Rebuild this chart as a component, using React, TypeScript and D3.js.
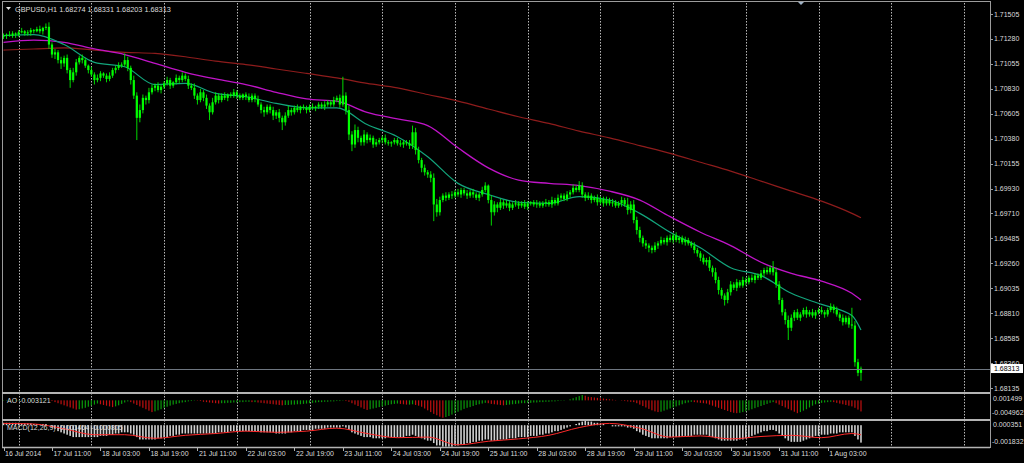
import React from "react";
import * as d3 from "d3";

// ---------- DATA ----------
const headerText = "GBPUSD,H1  1.68274 1.68331 1.68203 1.68313";
const aoLabel = "AO -0.003121";
const macdLabel = "MACD(12,26,9) -0.001464 -0.000805";
const lastPriceText = "1.68313";
const lastPrice = 1.68313;

const firstOpen = 1.713;
const closes: number[] = [
  1.7131, 1.7132, 1.7131, 1.7133, 1.7132, 1.7134, 1.7135, 1.7133, 1.7134, 1.7136,
  1.7135, 1.7137, 1.7135, 1.7138, 1.7139, 1.7123, 1.7114, 1.7116, 1.7109, 1.7106,
  1.7111, 1.71, 1.7091, 1.7098, 1.7107, 1.7111, 1.7109, 1.7104, 1.71, 1.7096,
  1.7091, 1.7093, 1.7097, 1.7095, 1.7092, 1.7095, 1.71, 1.7102, 1.7104, 1.7105,
  1.7109, 1.7102, 1.7091, 1.7077, 1.7057, 1.7064, 1.7075, 1.7073, 1.708, 1.7084,
  1.7086, 1.7082, 1.7085, 1.7088, 1.7091, 1.7086, 1.7089, 1.7093, 1.7091, 1.7095,
  1.7092, 1.7086, 1.7084, 1.7077, 1.7073, 1.708, 1.7075, 1.7068, 1.7062, 1.7071,
  1.7077, 1.7073, 1.7077, 1.7075, 1.7078, 1.7077, 1.708, 1.7077, 1.7075, 1.7078,
  1.7076, 1.7073, 1.7077, 1.7074, 1.7069, 1.7064, 1.7062, 1.7067, 1.7064, 1.7059,
  1.7062, 1.7057, 1.7053, 1.7059, 1.7064, 1.7062, 1.7066, 1.7064, 1.7067, 1.7066,
  1.7064, 1.7067, 1.7066, 1.7067, 1.7069, 1.7067, 1.7069, 1.7071, 1.7069, 1.7073,
  1.7075, 1.7069, 1.7077, 1.7064, 1.7042, 1.7033, 1.7046, 1.7039, 1.7035, 1.7042,
  1.7037, 1.7039, 1.7033, 1.7035, 1.7037, 1.7039, 1.7035, 1.7034, 1.7035, 1.7037,
  1.7034, 1.7033, 1.7035, 1.7034, 1.7032, 1.7044, 1.7028, 1.7019, 1.7012, 1.7008,
  1.7006, 1.7003, 1.6979, 1.6972, 1.6983, 1.6987, 1.6985, 1.6988, 1.6987, 1.699,
  1.6988, 1.6992, 1.6989, 1.6987, 1.699, 1.6988, 1.6985, 1.6988, 1.6992, 1.6996,
  1.6983, 1.6972, 1.6979, 1.6976, 1.6981, 1.6978, 1.698, 1.6976, 1.6979, 1.698,
  1.6978, 1.698, 1.6977, 1.698, 1.6981, 1.6979, 1.698, 1.6978, 1.698, 1.6981,
  1.6979, 1.6983, 1.698, 1.6985, 1.6987, 1.6984, 1.6988, 1.699, 1.6994, 1.6992,
  1.6996, 1.6988, 1.6985, 1.6987, 1.6983, 1.6985, 1.6981, 1.6984, 1.698, 1.6983,
  1.698, 1.6981, 1.6978, 1.698, 1.6983, 1.6979, 1.6974, 1.6979, 1.6965, 1.6956,
  1.6949, 1.6944, 1.6942, 1.694, 1.6938, 1.6942, 1.6944, 1.6947, 1.6945, 1.6949,
  1.6947, 1.6951, 1.6947, 1.6949, 1.6945, 1.6947, 1.6944, 1.6942, 1.6938, 1.6935,
  1.6931, 1.6927, 1.6929, 1.6922, 1.6918, 1.6911, 1.6902, 1.6897, 1.6893, 1.69,
  1.6907, 1.6904, 1.6909, 1.6906, 1.6911, 1.6909, 1.6913, 1.6911, 1.6915, 1.6913,
  1.6917, 1.692, 1.6918, 1.6922, 1.6918, 1.6907, 1.6893, 1.6882, 1.6875, 1.6868,
  1.6877, 1.6882, 1.6877, 1.688, 1.6884, 1.688, 1.6882, 1.6879, 1.6882, 1.6884,
  1.6882, 1.688, 1.6884, 1.6887, 1.6884, 1.688, 1.6877, 1.6873, 1.6877, 1.6871,
  1.687, 1.6837, 1.68274, 1.68313,
];
// upper / lower wick beyond the body, in pips
const wickUp: number[] = [
  2, 1, 3, 2, 1, 2, 3, 1, 2, 2, 1, 2, 3, 1, 3, 4, 2, 3, 2, 3,
  2, 3, 2, 4, 3, 2, 3, 2, 1, 3, 2, 3, 2, 1, 2, 3, 2, 2, 3, 2,
  6, 3, 2, 4, 3, 5, 3, 2, 4, 3, 2, 3, 2, 2, 3, 2, 1, 3, 2, 3,
  2, 3, 2, 4, 2, 3, 2, 3, 2, 4, 3, 2, 2, 3, 1, 2, 3, 2, 2, 1,
  2, 3, 2, 2, 3, 2, 3, 2, 2, 3, 2, 3, 2, 3, 4, 2, 2, 3, 1, 2,
  2, 2, 3, 1, 2, 2, 3, 2, 2, 3, 2, 3, 17, 3, 4, 3, 5, 3, 2, 4,
  2, 3, 2, 3, 2, 2, 3, 2, 1, 2, 2, 3, 2, 2, 3, 6, 4, 3, 2, 3,
  2, 3, 4, 5, 3, 2, 3, 2, 3, 2, 3, 2, 2, 3, 2, 3, 2, 2, 3, 3,
  1, 4, 3, 2, 3, 2, 3, 2, 2, 3, 2, 2, 3, 2, 1, 2, 3, 2, 2, 3,
  2, 3, 2, 3, 2, 2, 3, 2, 3, 2, 4, 3, 2, 3, 2, 2, 3, 2, 2, 3,
  2, 3, 2, 2, 3, 2, 6, 3, 4, 3, 3, 2, 3, 2, 2, 3, 2, 3, 2, 2,
  3, 2, 3, 2, 2, 3, 2, 2, 3, 2, 2, 3, 2, 3, 2, 4, 3, 2, 2, 3,
  3, 2, 3, 2, 3, 2, 2, 3, 2, 2, 3, 2, 3, 2, 6, 4, 3, 2, 3, 4,
  3, 2, 3, 2, 2, 3, 2, 3, 2, 2, 3, 2, 2, 3, 2, 3, 2, 3, 2, 2,
  15, 4, 3, 1.8,
];
const wickDn: number[] = [
  2, 3, 1, 2, 3, 2, 1, 2, 2, 3, 2, 1, 2, 3, 2, 4, 3, 4, 3, 5,
  3, 3, 7, 2, 3, 2, 3, 2, 3, 2, 4, 2, 3, 2, 3, 2, 2, 3, 2, 2,
  2, 3, 4, 3, 20, 4, 3, 4, 3, 2, 3, 2, 3, 2, 2, 3, 2, 2, 3, 2,
  2, 3, 2, 3, 4, 2, 3, 3, 7, 2, 2, 3, 2, 2, 3, 2, 2, 3, 2, 2,
  3, 2, 2, 3, 2, 3, 4, 2, 3, 4, 3, 4, 7, 3, 2, 3, 2, 2, 3, 2,
  3, 2, 2, 3, 2, 2, 3, 2, 2, 2, 2, 3, 2, 4, 5, 6, 3, 4, 3, 3,
  3, 2, 3, 2, 2, 3, 2, 2, 3, 2, 2, 2, 3, 2, 3, 3, 4, 3, 4, 3,
  3, 4, 15, 4, 3, 2, 3, 2, 3, 2, 2, 3, 2, 3, 2, 3, 2, 3, 2, 2,
  3, 12, 3, 4, 2, 3, 2, 3, 2, 2, 3, 2, 2, 3, 2, 2, 3, 2, 2, 3,
  2, 3, 2, 2, 3, 2, 2, 3, 2, 2, 2, 3, 3, 2, 3, 2, 3, 2, 3, 2,
  2, 3, 2, 2, 3, 2, 4, 3, 3, 4, 4, 3, 3, 4, 3, 2, 3, 2, 2, 3,
  2, 3, 2, 3, 2, 3, 2, 2, 3, 3, 3, 2, 3, 3, 4, 3, 4, 3, 5, 3,
  3, 2, 3, 2, 2, 3, 2, 2, 3, 2, 2, 3, 2, 2, 3, 3, 4, 3, 4, 11,
  3, 3, 2, 3, 2, 3, 2, 2, 3, 2, 2, 3, 2, 2, 3, 2, 3, 3, 2, 3,
  3, 4, 3, 7.1,
];

// moving averages sampled at bar indices
const maIdx = [0, 10, 20, 30, 40, 50, 60, 70, 80, 90, 100, 110, 120, 130, 140, 150, 160, 170, 180, 190, 200, 210, 220, 230, 240, 250, 260, 270, 280, 283];
const maFast = [1.7131, 1.7132, 1.7123, 1.7107, 1.7103, 1.7087, 1.7088, 1.7079, 1.7076, 1.707, 1.7066, 1.7066, 1.7051, 1.704, 1.7022, 1.6998, 1.6988, 1.6981, 1.698, 1.6986, 1.6983, 1.6971, 1.6954, 1.694, 1.6922, 1.6915, 1.6899, 1.6889, 1.6879, 1.6866];
const maMid = [1.7125, 1.7127, 1.7125, 1.7119, 1.7114, 1.7106, 1.7098, 1.7092, 1.7087, 1.708, 1.7074, 1.7072, 1.7062, 1.7056, 1.705, 1.703, 1.7012, 1.7001, 1.6998, 1.6996, 1.6991, 1.6983, 1.6968, 1.6954, 1.6942, 1.6927, 1.6917, 1.691, 1.6899, 1.6893];
const maSlow = [1.7118, 1.7119, 1.712, 1.7118, 1.7116, 1.7115, 1.7112, 1.7108, 1.7105, 1.7101, 1.7097, 1.7093, 1.7088, 1.7084, 1.7078, 1.7072, 1.7065, 1.7058, 1.7052, 1.7045, 1.7039, 1.7032, 1.7025, 1.7017, 1.7009, 1.7, 1.6991, 1.6982, 1.6971, 1.6967];

// Awesome Oscillator, units of 1e-4
const aoValues: number[] = [
  1, 1, 1, 1, 1, 1, 1, 1, 1, 1, 1, 1, 1, 1, 1, 0,
  -2, -5, -8, -11, -14, -17, -20, -23, -26,
  -25, -23, -21, -18, -15, -12, -9,
  -11, -13, -15, -17, -19,
  -17, -14, -10, -6, -3,
  -5, -9, -13, -17, -21, -25, -29, -33,
  -31, -28, -25, -21,
  -18, -15, -12, -10, -8, -6, -5, -3, -2, 1,
  -1, -2, -4, -5, -6, -7, -8, -9, -8, -8, -7, -7, -6,
  -6, -5, -5, -4, -4, -5, -5, -6, -7, -8, -9,
  -10, -11, -12, -13, -14, -13, -13, -12, -12, -11, -11,
  -10, -9, -8, -7, -6, -5, -5, -4, -4, -3, -3, -2, -2, -1, -2,
  -4, -8, -12, -16, -20, -24, -27, -25, -23, -21,
  -19, -17, -15, -13, -11, -10, -9, -10,
  -11, -12, -12, -11, -13, -15,
  -18, -23, -28, -33, -38, -42, -46, -49,
  -47, -44, -40, -36, -32, -28, -24, -21,
  -19, -16, -13, -11, -9, -7,
  -8, -10, -11, -12, -13, -14, -13,
  -12, -11, -10, -9, -8, -8, -7,
  -7, -6, -6, -5, -5, -4, -4, -3, -3, -2, -1, -1, 0,
  3, 6, 9, 12, 15, 13, 10,
  9, 8, 7, 6, 5, 4, 3, 2, 1, 0, -1, -2, -3, -4, -5,
  -8, -12, -16, -20, -24, -28, -31, -33,
  -32, -29, -26, -23, -20, -17, -14, -11, -8, -6, -4,
  -5, -6, -7, -8, -9,
  -12, -15, -18, -21, -24, -27, -30, -33, -35, -36,
  -35, -33, -31, -28, -25, -22, -19, -16, -13, -10, -7, -5,
  -8, -12, -16, -20, -24, -28, -32, -36,
  -33, -29, -25, -20, -15, -11,
  -9, -7, -6, -5, -4,
  -5, -7, -9, -11, -13, -15, -17, -21, -26, -31.21,
];

// MACD main (histogram), units of 1e-4
const macdValues: number[] = [
  2, 2, 2, 2, 2, 2, 1.5, 1.5, 1.5, 1.5, 1, 1, 1, 1, 1,
  0, -2, -3, -5, -6, -7, -8, -9, -10, -10, -10, -10, -10, -10, -10,
  -10, -10, -9, -9, -9, -8, -8, -7, -7, -6, -6, -6, -7, -8, -10,
  -12, -12, -12, -12, -12, -12, -11, -11,
  -10, -10, -9, -9, -8, -8, -7, -7, -7, -7, -7, -7, -7,
  -7, -7, -7, -7, -7, -6, -6, -6, -6, -5, -5, -5, -5, -5, -5, -5, -5, -5, -5, -6, -6, -6, -6, -6, -7, -7, -7, -7, -6, -6, -5, -5, -5,
  -4, -4, -4, -4, -3, -3, -3, -3, -2, -2, -2, -2, -2, -1,
  -2, -4, -6, -7, -8, -9, -10, -10, -10, -11, -11, -11, -11, -11, -10, -10, -10, -10, -10,
  -10, -9, -9, -8, -9, -10,
  -11, -12, -13, -13, -15, -17, -17, -18, -18, -18, -18, -17, -17,
  -16, -16, -15, -15, -14, -14, -13, -13, -12, -12, -13, -13, -13, -12,
  -12, -12, -11, -11, -11, -10, -10, -10, -10, -9, -9, -9, -8,
  -8, -7, -7, -6, -5, -5, -4, -3, -2, -1, 0, 1, 2,
  3, 3.5, 3, 3, 2, 2, 1,
  1, 0, 0, -1, -1, -1, -1, -1, -2, -2,
  -3, -5, -6, -8, -9, -10, -11, -11, -11, -11, -11, -11, -10,
  -10, -10, -10, -9, -9, -9, -9, -8, -8, -8,
  -8, -8, -9, -10, -11, -12, -13, -13, -13, -13, -13, -13, -12, -12,
  -11, -10, -9, -8, -7, -6, -5, -5, -4, -4,
  -5, -7, -9, -11, -13, -14, -14, -14, -14,
  -13, -12, -11, -10, -9, -9, -8, -8, -8, -7,
  -7, -7, -6, -6, -6, -6, -6, -9, -12, -14.64,
];
// MACD signal, sampled at maIdx, units of 1e-4
const signalValues = [1.5, 1, -3, -8, -8, -11, -8.5, -7, -5, -6, -5, -2.5, -7, -10.5, -10, -16.5, -13.5, -11.5, -8.5, -2, 1.5, -2.5, -10, -9, -11.5, -9.5, -8.5, -10.5, -7, -8.05];

const priceTicks = [1.71505, 1.7128, 1.71055, 1.7083, 1.70605, 1.7038, 1.70155, 1.6993, 1.6971, 1.69485, 1.6926, 1.69035, 1.6881, 1.68585, 1.6836, 1.68135];
const aoTickLabels = ["0.001499", "-0.004962"];
const macdTickLabels = ["0.000351", "-0.001832"];
const timeLabelIdx = [0, 16, 32, 48, 64, 80, 96, 112, 128, 144, 160, 176, 192, 208, 224, 240, 256, 272];
const timeLabels = ["16 Jul 2014", "17 Jul 11:00", "18 Jul 03:00", "18 Jul 19:00", "21 Jul 11:00", "22 Jul 03:00", "22 Jul 19:00", "23 Jul 11:00", "24 Jul 03:00", "24 Jul 19:00", "25 Jul 11:00", "28 Jul 03:00", "28 Jul 19:00", "29 Jul 11:00", "30 Jul 03:00", "30 Jul 19:00", "31 Jul 11:00", "1 Aug 03:00"];
const daySeparatorIdx = [5, 29, 53, 77, 101, 125, 149, 173, 197, 221, 245, 269, 293, 317];

// ---------- CHART ----------
const FONT = "'Liberation Sans', Arial, sans-serif";
const TXT = "#dcdcdc";

export default function App() {
  React.useEffect(() => {
    document.body.style.margin = "0";
    document.body.style.background = "#000";
  }, []);

  const N = closes.length;
  const barStep = 3.03;
  const x = d3.scaleLinear().domain([0, N - 1]).range([3.5, 3.5 + (N - 1) * barStep]);
  const y = d3.scaleLinear().domain([1.71505, 1.6836]).range([14, 363.3]);
  const yAO = d3.scaleLinear().domain([14.99, -49.62]).range([395, 418]);
  const yM = d3.scaleLinear().domain([3.51, -18.32]).range([421, 447]);

  const maLine = (vals: number[]) =>
    d3.line<number>().x((_, k) => x(maIdx[k])).y((v) => y(v)).curve(d3.curveMonotoneX)(vals) || "";
  const sigLine =
    d3.line<number>().x((_, k) => x(maIdx[k])).y((v) => yM(v)).curve(d3.curveMonotoneX)(signalValues) || "";

  const PANEL_R = 990;

  return (
    <svg width={1024} height={463} style={{ position: "fixed", left: 0, top: 0, display: "block", background: "#000" }}>
      <rect x={0} y={0} width={1024} height={463} fill="#000" />

      {/* day separators */}
      {daySeparatorIdx.map((d) => (
        <line key={"sep" + d} x1={Math.round(x(d)) + 0.5} x2={Math.round(x(d)) + 0.5} y1={3} y2={447}
          stroke="#b8b8b8" strokeWidth={1} strokeDasharray="1.5 1.5" />
      ))}

      {/* moving averages */}
      <path d={maLine(maSlow)} fill="none" stroke="#8e1c1c" strokeWidth={1.2} />
      <path d={maLine(maMid)} fill="none" stroke="#c014c8" strokeWidth={1.3} />
      <path d={maLine(maFast)} fill="none" stroke="#13a57c" strokeWidth={1.2} />

      {/* candles */}
      {closes.map((c, i) => {
        const o = i === 0 ? firstOpen : closes[i - 1];
        const hi = Math.max(o, c) + wickUp[i] * 1e-4;
        const lo = Math.min(o, c) - wickDn[i] * 1e-4;
        const cx = x(i);
        const top = y(Math.max(o, c));
        const bot = y(Math.min(o, c));
        return (
          <g key={"c" + i}>
            <line x1={cx} x2={cx} y1={y(hi)} y2={y(lo)} stroke="#00f000" strokeWidth={0.9} />
            <rect x={cx - 1.1} y={top} width={2.2} height={Math.max(1, bot - top)} fill="#00ff00" />
          </g>
        );
      })}

      {/* current price line */}
      <line x1={3} x2={PANEL_R} y1={Math.round(y(lastPrice)) + 0.5} y2={Math.round(y(lastPrice)) + 0.5} stroke="#6e7680" strokeWidth={1} />

      {/* header */}
      <polygon points="6,7 11,7 8.5,10" fill="#e0e0e0" />
      <text x={15} y={12} fontFamily={FONT} fontSize={7.3} fill={TXT}>{headerText}</text>
      <polygon points="797,1 805,1 801,5" fill="#9fb2c6" />

      {/* AO histogram */}
      {aoValues.map((v, i) => {
        const prev = i === 0 ? v - 1 : aoValues[i - 1];
        const col = v >= prev ? "#0a9a0a" : "#c01010";
        const y0 = yAO(0);
        const y1 = yAO(v);
        return (
          <rect key={"ao" + i} x={x(i) - 0.6} y={Math.min(y0, y1)} width={1.2} height={Math.abs(y1 - y0)} fill={col} />
        );
      })}
      <text x={7} y={402.5} fontFamily={FONT} fontSize={7} fill={TXT}>{aoLabel}</text>

      {/* MACD histogram + signal */}
      {macdValues.map((v, i) => {
        const y0 = yM(0);
        const y1 = yM(v);
        return (
          <rect key={"m" + i} x={x(i) - 0.8} y={Math.min(y0, y1)} width={1.6} height={Math.abs(y1 - y0)} fill="#d0d0d0" />
        );
      })}
      <path d={sigLine} fill="none" stroke="#ff2a2a" strokeWidth={1} />
      <text x={7} y={429.5} fontFamily={FONT} fontSize={7} fill={TXT}>{macdLabel}</text>

      {/* frames */}
      <line x1={2.5} x2={2.5} y1={1} y2={448} stroke="#9c9c9c" strokeWidth={1} />
      <line x1={2} x2={PANEL_R} y1={1.5} y2={1.5} stroke="#9c9c9c" strokeWidth={1} />
      <line x1={2} x2={PANEL_R} y1={393} y2={393} stroke="#b4b4b4" strokeWidth={2} />
      <line x1={2} x2={PANEL_R} y1={420} y2={420} stroke="#b4b4b4" strokeWidth={2} />
      <line x1={2} x2={PANEL_R} y1={447.5} y2={447.5} stroke="#b4b4b4" strokeWidth={1.5} />
      <line x1={PANEL_R + 0.5} x2={PANEL_R + 0.5} y1={1} y2={448} stroke="#9c9c9c" strokeWidth={1} />

      {/* price axis */}
      {priceTicks.map((p) => (
        <g key={"pt" + p}>
          <line x1={PANEL_R} x2={PANEL_R + 3} y1={Math.round(y(p)) + 0.5} y2={Math.round(y(p)) + 0.5} stroke="#9c9c9c" />
          <text x={994} y={y(p) + 2.5} fontFamily={FONT} fontSize={7} fill={TXT}>{p.toFixed(5)}</text>
        </g>
      ))}
      <rect x={991} y={y(lastPrice) - 4.5} width={32} height={9} fill="#ffffff" />
      <text x={994} y={y(lastPrice) + 2.5} fontFamily={FONT} fontSize={7} fill="#000">{lastPriceText}</text>

      {/* sub-window labels */}
      <text x={993} y={yAO(14.99) + 5.5} fontFamily={FONT} fontSize={7} fill={TXT}>{aoTickLabels[0]}</text>
      <text x={992} y={yAO(-49.62) - 3.5} fontFamily={FONT} fontSize={7} fill={TXT}>{aoTickLabels[1]}</text>
      <text x={993} y={yM(3.51) + 5.5} fontFamily={FONT} fontSize={7} fill={TXT}>{macdTickLabels[0]}</text>
      <text x={992} y={yM(-18.32) - 3.5} fontFamily={FONT} fontSize={7} fill={TXT}>{macdTickLabels[1]}</text>

      {/* time axis */}
      {timeLabelIdx.map((ti, k) => (
        <g key={"tl" + ti}>
          <line x1={Math.round(x(ti)) + 0.5} x2={Math.round(x(ti)) + 0.5} y1={448} y2={451} stroke="#b0b0b0" />
          <text x={x(ti) + 1.5} y={456} fontFamily={FONT} fontSize={7} fill={TXT}>{timeLabels[k]}</text>
        </g>
      ))}
    </svg>
  );
}
